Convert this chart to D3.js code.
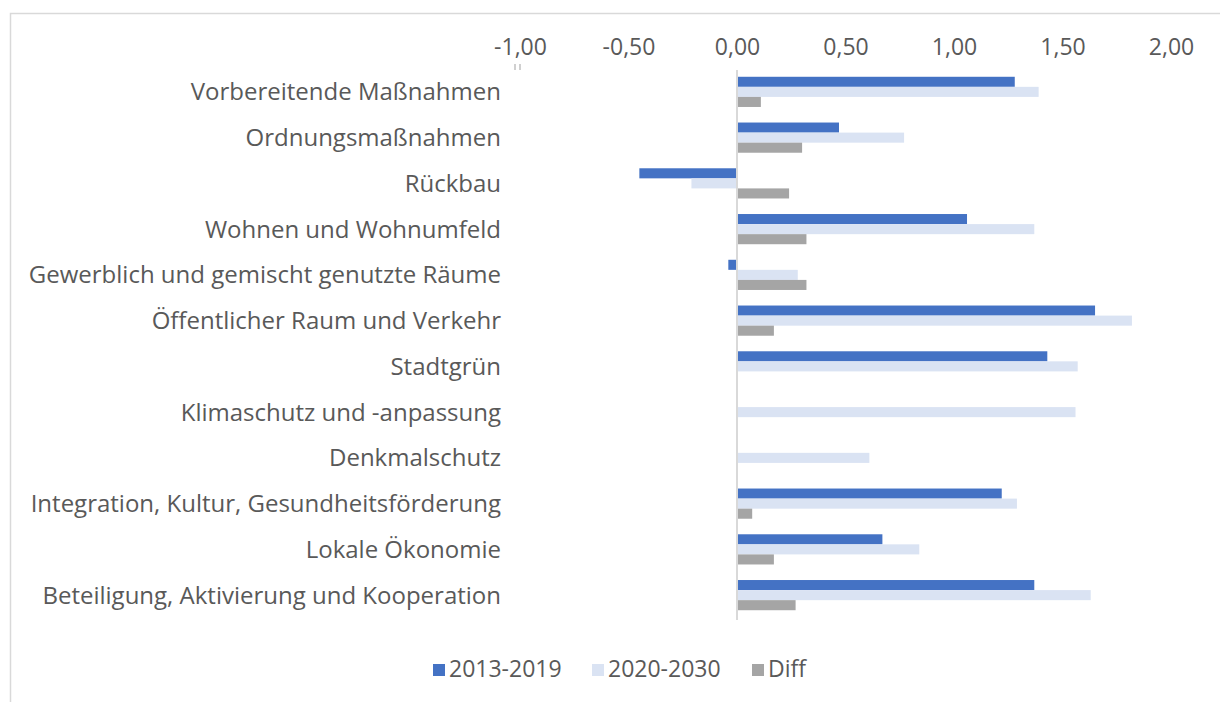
<!DOCTYPE html>
<html>
<head>
<meta charset="utf-8">
<script src="https://cdn.jsdelivr.net/npm/d3@7"></script>
<style>
  body { margin: 0; background: #fff; }
  text { font-family: "Open Sans", sans-serif; fill: #595959; }
</style>
</head>
<body>
<div id="chart"></div>
<script>
var w = 1220,
  h = 702;

// data
var categories = [
  "Vorbereitende Maßnahmen",
  "Ordnungsmaßnahmen",
  "Rückbau",
  "Wohnen und Wohnumfeld",
  "Gewerblich und gemischt genutzte Räume",
  "Öffentlicher Raum und Verkehr",
  "Stadtgrün",
  "Klimaschutz und -anpassung",
  "Denkmalschutz",
  "Integration, Kultur, Gesundheitsförderung",
  "Lokale Ökonomie",
  "Beteiligung, Aktivierung und Kooperation"
];
var seriesNames = ["2013-2019", "2020-2030", "Diff"];
var v2013 = [1.28, 0.47, -0.45, 1.06, -0.04, 1.65, 1.43, 0, 0, 1.22, 0.67, 1.37];
var v2020 = [1.39, 0.77, -0.21, 1.37, 0.28, 1.82, 1.57, 1.56, 0.61, 1.29, 0.84, 1.63];
var vDiff = [0.11, 0.30, 0.24, 0.32, 0.32, 0.17, 0, 0, 0, 0.07, 0.17, 0.27];
var tickValues = [-1, -0.5, 0, 0.5, 1, 1.5, 2];
var colors = ["#4472c4", "#dae3f3", "#a5a5a5"];

var svg = d3.select("#chart").append("svg").attr("width", w).attr("height", h);

// chart frame
svg.append("rect").attr("x", 10.5).attr("y", 13.5).attr("width", w + 20).attr("height", h + 20)
  .attr("fill", "none").attr("stroke", "#d9d9d9").attr("stroke-width", 1.5);

var x = d3.scaleLinear().domain([-1, 2]).range([520, 1171]);
var y = d3.scaleBand().domain(categories).range([69, 618]).paddingInner(0.34).paddingOuter(0.17);
var y1 = d3.scaleBand().domain(seriesNames).range([0, y.bandwidth()]);

// top axis labels
var axis = d3.axisTop(x).tickValues(tickValues).tickSize(0).tickPadding(0)
  .tickFormat(function(d) { return d3.format(".2f")(d).replace(".", ",").replace("−", "-"); });
var gx = svg.append("g").attr("transform", "translate(0,55)").call(axis);
gx.select(".domain").remove();
gx.selectAll("text").style("font-size", "23px").attr("fill", "#595959").style("font-family", "'Open Sans', sans-serif");

// small marks left of the plot
svg.append("rect").attr("x", 514).attr("y", 64).attr("width", 2).attr("height", 6).attr("fill", "#d0d0d0");
svg.append("rect").attr("x", 519).attr("y", 64).attr("width", 2).attr("height", 6).attr("fill", "#d0d0d0");

var rows = categories.map(function(c, i) {
  return { cat: c, vals: [v2013[i], v2020[i], vDiff[i]] };
});

var groups = svg.selectAll(".grp").data(rows).enter().append("g")
  .attr("class", "grp")
  .attr("transform", function(d) { return "translate(0," + y(d.cat) + ")"; });

groups.selectAll("rect").data(function(d) {
  return d.vals.map(function(v, j) { return { s: seriesNames[j], v: v, j: j }; });
}).enter().append("rect")
  .attr("x", function(d) { return x(Math.min(0, d.v)); })
  .attr("width", function(d) { return Math.abs(x(d.v) - x(0)); })
  .attr("y", function(d) { return y1(d.s); })
  .attr("height", y1.bandwidth())
  .attr("fill", function(d) { return colors[d.j]; });

// zero line
svg.append("line").attr("x1", x(0)).attr("x2", x(0)).attr("y1", 70).attr("y2", 620)
  .attr("stroke", "#d9d9d9").attr("stroke-width", 2);

// category labels
svg.selectAll(".cat").data(categories).enter().append("text")
  .attr("class", "cat")
  .attr("x", 501)
  .attr("y", function(d) { return y(d) + y.bandwidth() / 2; })
  .attr("dy", "0.35em")
  .attr("text-anchor", "end")
  .style("font-size", "24px")
  .text(function(d) { return d; });

// legend
var legendX = [433, 592, 752];
var leg = svg.selectAll(".leg").data(seriesNames).enter().append("g")
  .attr("class", "leg")
  .attr("transform", function(d, i) { return "translate(" + legendX[i] + ",670)"; });
leg.append("rect").attr("x", 0).attr("y", -6).attr("width", 12).attr("height", 12)
  .attr("fill", function(d, i) { return colors[i]; });
leg.append("text").attr("x", 16).attr("dy", "0.32em").style("font-size", "23px").text(function(d) { return d; });
</script>
</body>
</html>
